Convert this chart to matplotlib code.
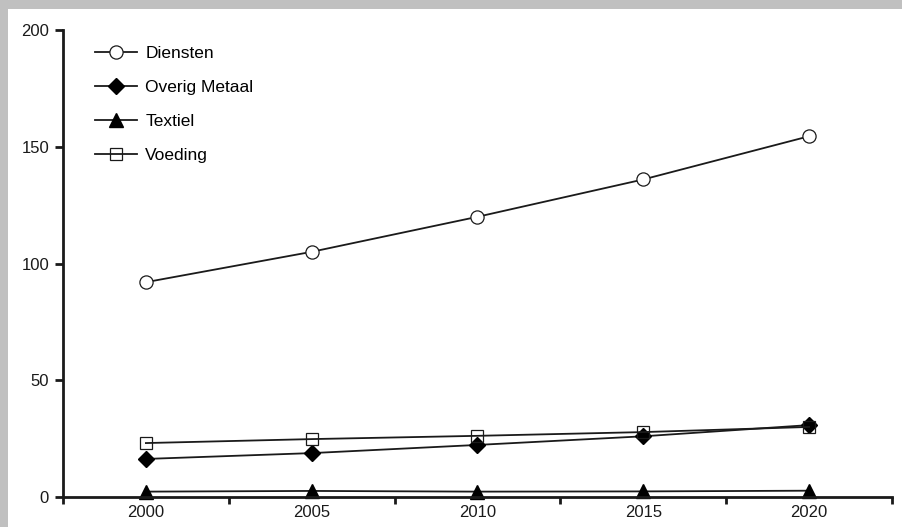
import matplotlib
matplotlib.use("Agg")
import matplotlib.pyplot as plt
from matplotlib.patches import Rectangle
import numpy as np

years = ["2000", "2005", "2010", "2015", "2020"]
diensten = [92.0, 105.0, 120.0, 136.0, 154.5]
overig_metaal = [16.3, 18.8, 22.3, 26.0, 30.8]
textiel = [2.3, 2.6, 2.3, 2.4, 2.7]
voeding = [23.1, 24.8, 26.2, 27.8, 30.0]
yticks = [0, 50, 100, 150, 200]

plt.rcParams['font.family'] = ['Liberation Sans', 'DejaVu Sans']

fig = plt.figure(figsize=(9.03, 5.27), dpi=100)
fig.patch.set_facecolor('#c0c0c0')
bg = Rectangle((8/903, 0), 1, 1 - 9/527, transform=fig.transFigure,
               facecolor='white', edgecolor='none', zorder=-10)
fig.add_artist(bg)

ax = fig.add_axes([63/903, (527-497)/527, (892-63)/903, (497-30)/527])
ax.set_zorder(1)
ax.set_facecolor('none')
x = np.arange(len(years))

lw = 1.3
ax.plot(x, diensten, color='#1a1a1a', lw=lw, marker='o', ms=9.5, mfc='white', mec='#1a1a1a', mew=0.9, label='Diensten')
ax.plot(x, overig_metaal, color='#1a1a1a', lw=lw, marker='D', ms=8.5, mfc='black', mec='black', label='Overig Metaal')
ax.plot(x, textiel, color='#1a1a1a', lw=lw, marker='^', ms=9.5, mfc='black', mec='black', label='Textiel', clip_on=False)
ax.plot(x, voeding, color='#1a1a1a', lw=lw, marker='s', ms=8.5, mfc='none', mec='#1a1a1a', mew=0.9, label='Voeding')

ax.set_xlim(-0.5, len(years) - 0.5)
ax.set_ylim(0, 200)
ax.set_yticks(yticks)
ax.set_xticks(x)
ax.set_xticklabels(years)
ax.set_xticks(np.arange(-0.5, len(years)), minor=True)
ax.tick_params(axis='x', which='major', length=0, pad=6, labelsize=12, colors='#1a1a1a')
ax.tick_params(axis='x', which='minor', length=5, width=2, direction='out', color='#1a1a1a')
ax.tick_params(axis='y', length=6, width=2, direction='out', pad=4, labelsize=12, colors='#1a1a1a')

for s in ['top', 'right']:
    ax.spines[s].set_visible(False)
for s in ['left', 'bottom']:
    ax.spines[s].set_linewidth(2)
    ax.spines[s].set_color('#1a1a1a')

leg = ax.legend(loc='upper left', bbox_to_anchor=(0.03, 0.98), frameon=False,
                fontsize=12.5, handlelength=2.45, handletextpad=0.45, labelspacing=1.08,
                borderaxespad=0)

fig.savefig('out.png', dpi=100, facecolor=fig.get_facecolor())
